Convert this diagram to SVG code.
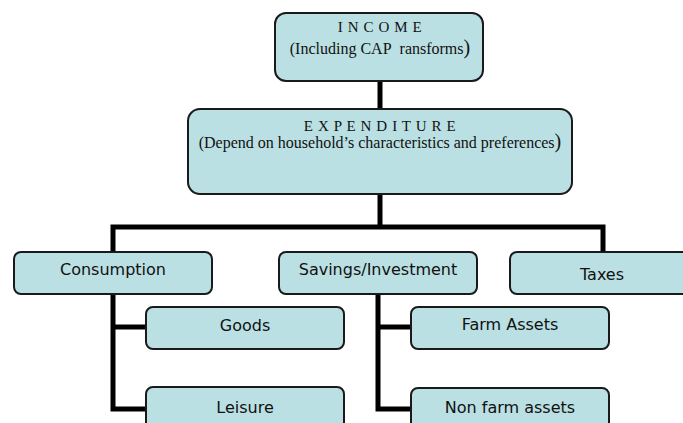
<svg xmlns="http://www.w3.org/2000/svg" width="683" height="423" viewBox="0 0 683 423">
  <style>
    .box { fill: #bae0e3; stroke: #1a1a1a; stroke-width: 2; }
    .wire { fill: none; stroke: #000; stroke-width: 5; stroke-linejoin: miter; }
    .serif { font-family: "Liberation Serif", "Times New Roman", serif; font-size: 16px; fill: #111; text-anchor: middle; }
    .head { font-size: 15px; letter-spacing: 0.6px; }
    .sans { font-family: "DejaVu Sans", Tahoma, Verdana, sans-serif; font-size: 16px; fill: #111; text-anchor: middle; }
    .paren { font-size: 20px; }
  </style>
  <rect width="683" height="423" fill="#fff"/>

  <!-- connectors -->
  <g id="connectors" class="wire">
    <path d="M380 81 V109"/>
    <path d="M380 194 V227"/>
    <path d="M113 252 V227 H603 V252"/>
    <path d="M113 294 V409 H146"/>
    <path d="M113 327 H146"/>
    <path d="M378 294 V409 H411"/>
    <path d="M378 327 H411"/>
  </g>

  <g id="income">
    <rect class="box" x="275" y="13" width="208" height="68" rx="11"/>
    <text class="serif head" x="380" y="32">I N C O M E</text>
    <text class="serif" x="380" y="54">(Including CAP&#160; ransforms<tspan class="paren">)</tspan></text>
  </g>

  <g id="expenditure">
    <rect class="box" x="188" y="109" width="384" height="85" rx="12"/>
    <text class="serif head" x="380" y="131">E X P E N D I T U R E</text>
    <text class="serif" x="380" y="148">(Depend on household’s characteristics and preferences<tspan class="paren">)</tspan></text>
  </g>

  <g id="consumption">
    <rect class="box" x="14" y="252" width="198" height="42" rx="7"/>
    <text class="sans" x="113" y="275">Consumption</text>
  </g>

  <g id="savings">
    <rect class="box" x="279" y="252" width="198" height="42" rx="7"/>
    <text class="sans" x="378" y="275">Savings/Investment</text>
  </g>

  <g id="taxes">
    <rect class="box" x="510" y="252" width="186" height="42" rx="7"/>
    <text class="sans" x="602" y="280">Taxes</text>
  </g>

  <g id="goods">
    <rect class="box" x="146" y="307" width="198" height="42" rx="7"/>
    <text class="sans" x="245" y="331">Goods</text>
  </g>

  <g id="leisure">
    <rect class="box" x="146" y="387" width="198" height="42" rx="7"/>
    <text class="sans" x="245" y="413">Leisure</text>
  </g>

  <g id="farm-assets">
    <rect class="box" x="411" y="307" width="198" height="42" rx="7"/>
    <text class="sans" x="510" y="330">Farm Assets</text>
  </g>

  <g id="non-farm-assets">
    <rect class="box" x="411" y="388" width="198" height="42" rx="7"/>
    <text class="sans" x="510" y="413">Non farm assets</text>
  </g>
</svg>
